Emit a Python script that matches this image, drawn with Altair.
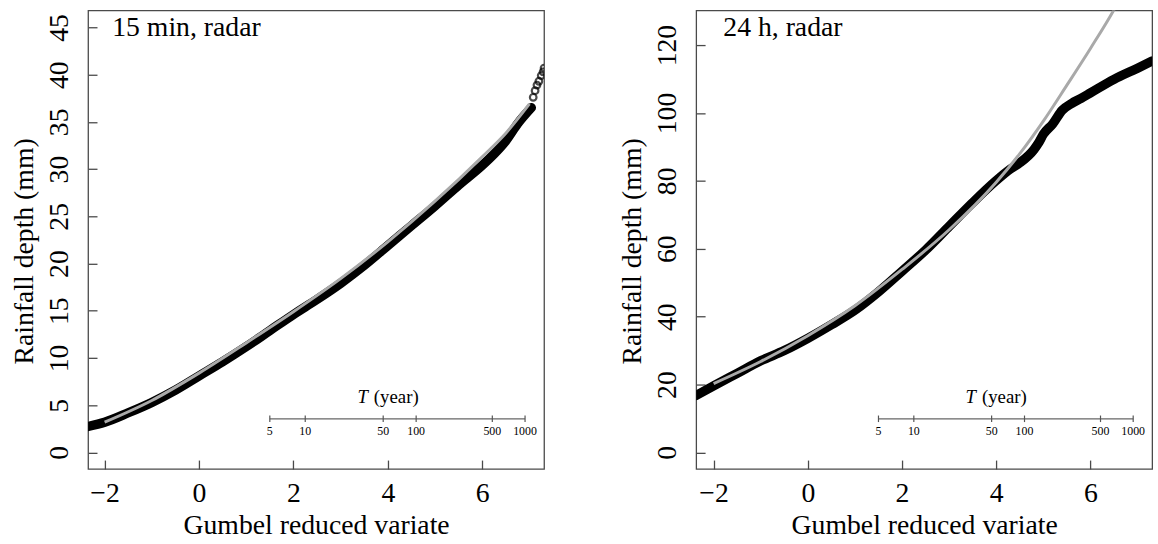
import altair as alt
import numpy as np
import pandas as pd

# ---------------- data ----------------
# Left panel: 15 min, radar
left_obs_x = [-2.35, -2.0, -1.5, -1.0, -0.5, 0.0, 0.5, 1.0, 1.5, 2.0, 2.5, 3.0, 3.5,
              4.0, 4.5, 5.0, 5.5, 6.0, 6.25, 6.5, 6.75, 7.04]
left_obs_y = [2.75, 3.2, 4.2, 5.3, 6.6, 8.1, 9.6, 11.2, 12.9, 14.6, 16.2, 17.9, 19.8,
              21.9, 24.0, 26.1, 28.3, 30.4, 31.6, 33.0, 34.8, 36.5]
left_tail_x = [7.08, 7.12, 7.16, 7.2, 7.25, 7.29, 7.31]
left_tail_y = [37.6, 38.3, 38.9, 39.3, 39.9, 40.3, 40.7]
left_fit_x = [-2.0, -1.0, 0.0, 1.0, 2.0, 3.0, 4.0, 5.0, 6.0, 6.5, 7.0]
left_fit_y = [3.2, 5.5, 8.4, 11.6, 14.9, 18.4, 22.3, 26.6, 31.3, 33.8, 36.9]

# Right panel: 24 h, radar
right_obs_x = [-2.37, -2.0, -1.5, -1.0, -0.5, 0.0, 0.5, 1.0, 1.5, 2.0, 2.5, 3.0, 3.5,
               4.0, 4.3, 4.5, 4.8, 4.9, 5.0, 5.2, 5.4, 5.6, 5.8, 6.0, 6.5, 7.0, 7.31]
right_obs_y = [16.8, 19.6, 23.3, 27.0, 30.0, 33.6, 37.6, 41.9, 47.3, 53.4, 59.6, 66.6, 73.6,
               80.1, 83.5, 85.3, 89.2, 91.2, 93.7, 96.8, 100.8, 102.8, 104.3, 105.9, 109.9, 113.2, 115.3]
right_fit_x = [-2.0, -1.0, 0.0, 1.0, 2.0, 3.0, 4.0, 4.5, 5.0, 5.5, 6.0, 6.5, 6.7]
right_fit_y = [20.3, 26.8, 34.4, 43.2, 53.9, 65.6, 79.6, 88.0, 97.6, 108.2, 119.0, 130.4, 135.5]

x_ticks = [-2, 0, 2, 4, 6]
left_y_ticks = [0, 5, 10, 15, 20, 25, 30, 35, 40, 45]
right_y_ticks = [0, 20, 40, 60, 80, 100, 120]
T_ticks = [5, 10, 50, 100, 500, 1000]
panel_labels = ["15 min, radar", "24 h, radar"]
x_title = "Gumbel reduced variate"
y_title = "Rainfall depth (mm)"

# ---------------- styling ----------------
FONT = "Liberation Serif"
W, H = 460.7, 463.3
FRAME = "#4a4a4a"


def panel(obs_x, obs_y, fit_x, fit_y, xdom, ydom, yticks, label, label_x,
          tail_x=None, tail_y=None):
    xs = alt.Scale(domain=xdom, nice=False, zero=False)
    ys = alt.Scale(domain=ydom, nice=False, zero=False)
    xaxis = alt.Axis(values=x_ticks, title=x_title, grid=False, domain=False,
                     tickSize=9, offset=-9, tickColor=FRAME, tickWidth=1.3,
                     labelFont=FONT, labelFontSize=28, labelColor="black",
                     labelBaseline="alphabetic", labelPadding=33, labelAlign="center",
                     titleFont=FONT, titleFontSize=28, titleFontWeight="normal",
                     titleColor="black", titleBaseline="alphabetic", titleY=74,
                     labelFlush=False)
    yaxis = alt.Axis(values=yticks, title=y_title, grid=False, domain=False,
                     tickSize=9, offset=-9, tickColor=FRAME, tickWidth=1.3,
                     labelFont=FONT, labelFontSize=28, labelColor="black",
                     labelAngle=270, labelAlign="center", labelBaseline="alphabetic",
                     labelPadding=20.6, labelFlush=False,
                     titleFont=FONT, titleFontSize=28, titleFontWeight="normal",
                     titleColor="black", titleAngle=270, titleAlign="center",
                     titleBaseline="alphabetic", titleX=-65.5, titleY=243)

    def X(field):
        return alt.X(field, type="quantitative", scale=xs, axis=xaxis)

    def Y(field):
        return alt.Y(field, type="quantitative", scale=ys, axis=yaxis)

    obs = pd.DataFrame({"u": obs_x, "depth": obs_y})
    fit = pd.DataFrame({"u": fit_x, "depth": fit_y})

    layers = []
    layers.append(alt.Chart(obs).mark_line(color="black", strokeWidth=9.5, strokeCap="round",
                                           strokeJoin="round", interpolate="monotone",
                                           clip=True)
                  .encode(x=X("u"), y=Y("depth")))
    if tail_x is not None:
        tail = pd.DataFrame({"u": tail_x, "depth": tail_y})
        layers.append(alt.Chart(tail).mark_point(shape="circle", filled=False, color="black",
                                                 strokeWidth=2.2, size=45, clip=True)
                      .encode(x=X("u"), y=Y("depth")))
    layers.append(alt.Chart(fit).mark_line(color="#a9a9a9", strokeWidth=3,
                                           interpolate="monotone", clip=True)
                  .encode(x=X("u"), y=Y("depth")))

    # inset return period axis (positions from the Gumbel variate of T)
    T = np.array(T_ticks, dtype=float)
    tdf = pd.DataFrame({"T": [str(t) for t in T_ticks],
                        "u": -np.log(-np.log(1.0 - 1.0 / T))})
    span = pd.DataFrame({"u": [tdf["u"].min()], "u_end": [tdf["u"].max()]})
    layers.append(alt.Chart(span).mark_rule(color="#666666", strokeWidth=1.3)
                  .encode(x=X("u"), x2="u_end", y=alt.value(412.6)))
    layers.append(alt.Chart(tdf).mark_rule(color="#555555", strokeWidth=1.2)
                  .encode(x=X("u"), y=alt.value(409.3), y2=alt.value(415.9)))
    layers.append(alt.Chart(tdf).mark_text(font=FONT, fontSize=12, baseline="alphabetic",
                                           align="center", color="black")
                  .encode(x=X("u"), y=alt.value(429.3), text="T:N"))
    layers.append(alt.Chart(pd.DataFrame({"t": ["T"]}))
                  .mark_text(font=FONT, fontSize=19, fontStyle="italic", align="right",
                             baseline="alphabetic", color="black")
                  .encode(x=alt.value(282.7), y=alt.value(396.6), text="t:N"))
    layers.append(alt.Chart(pd.DataFrame({"t": ["(year)"]}))
                  .mark_text(font=FONT, fontSize=19, align="left",
                             baseline="alphabetic", color="black")
                  .encode(x=alt.value(288.7), y=alt.value(396.6), text="t:N"))
    # panel label
    layers.append(alt.Chart(pd.DataFrame({"t": [label]}))
                  .mark_text(font=FONT, fontSize=28, align="left",
                             baseline="alphabetic", color="black")
                  .encode(x=alt.value(label_x), y=alt.value(26.3), text="t:N"))

    return alt.layer(*layers).properties(width=W, height=H)


left = panel(left_obs_x, left_obs_y, left_fit_x, left_fit_y,
             [-2.35, 7.31], [-1.75, 46.8], left_y_ticks, panel_labels[0], 24.4,
             left_tail_x, left_tail_y)
right = panel(right_obs_x, right_obs_y, right_fit_x, right_fit_y,
              [-2.37, 7.31], [-4.87, 130.2], right_y_ticks, panel_labels[1], 27.4)

chart = (alt.hconcat(left, right, spacing=72.4)
         .properties(padding={"left": 9, "top": 6.7, "right": 5, "bottom": 5},
                     background="white")
         .configure_view(stroke=FRAME, strokeWidth=1.3))

chart.save("out.html", embed_options={"renderer": "svg", "actions": False})
